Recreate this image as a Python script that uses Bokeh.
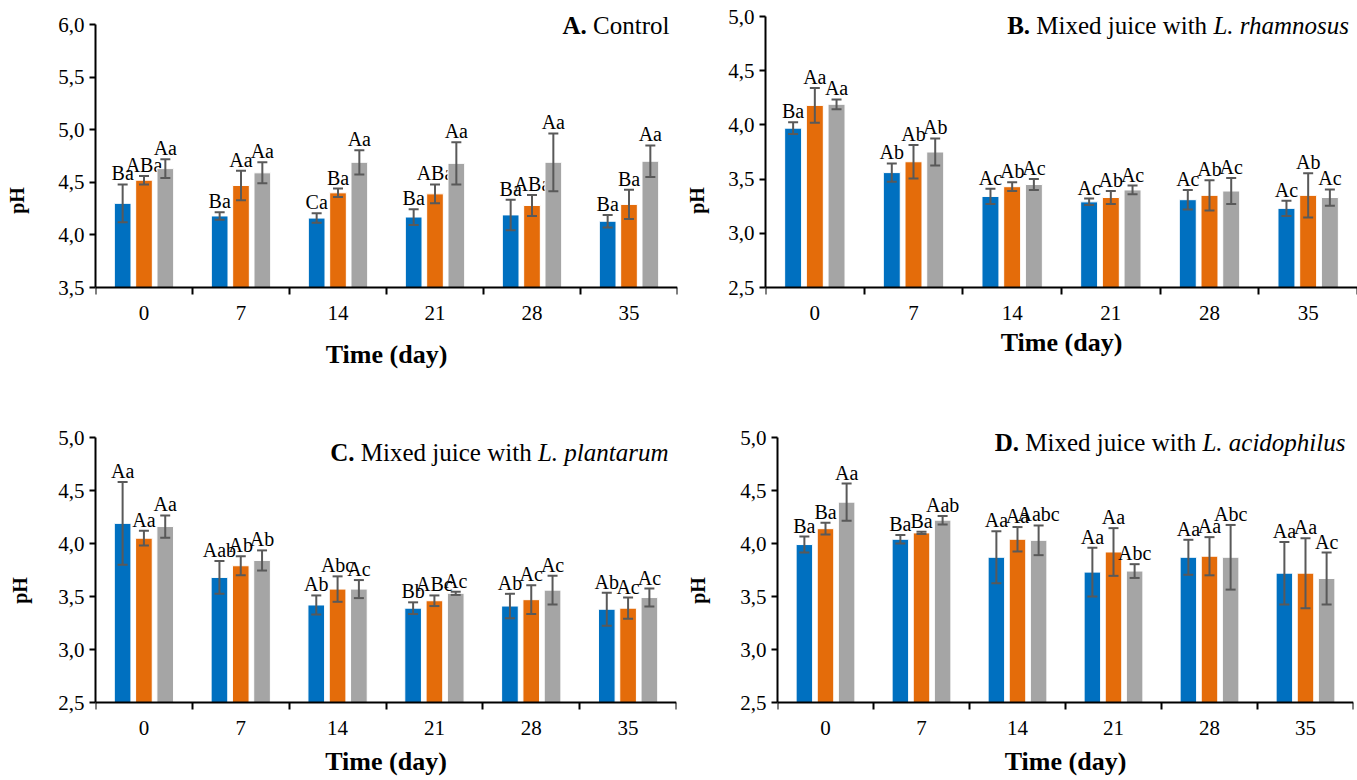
from bokeh.plotting import figure
from bokeh.models import (Range1d, FixedTicker, CustomJSTickFormatter, ColumnDataSource,
                          Whisker, TeeHead, Label)
from bokeh.layouts import row, column
from bokeh.core.properties import value
from bokeh.embed import file_html
from bokeh.resources import INLINE

days = ["0", "7", "14", "21", "28", "35"]
colors = ["#0070C0", "#E46C0A", "#A5A5A5"]

# ---- Panel A: Control
a_blue = [4.30, 4.18, 4.16, 4.17, 4.19, 4.13]
a_blue_err = [0.18, 0.035, 0.045, 0.075, 0.145, 0.06]
a_orange = [4.52, 4.47, 4.40, 4.39, 4.28, 4.29]
a_orange_err = [0.04, 0.14, 0.04, 0.09, 0.10, 0.14]
a_gray = [4.63, 4.59, 4.69, 4.68, 4.69, 4.70]
a_gray_err = [0.09, 0.10, 0.115, 0.20, 0.275, 0.15]
a_blue_lbl = ["Ba", "Ba", "Ca", "Ba", "Ba", "Ba"]
a_orange_lbl = ["ABa", "Aa", "Ba", "ABa", "ABa", "Ba"]
a_gray_lbl = ["Aa", "Aa", "Aa", "Aa", "Aa", "Aa"]

# ---- Panel B: L. rhamnosus
b_blue = [3.97, 3.56, 3.34, 3.29, 3.31, 3.23]
b_blue_err = [0.055, 0.085, 0.07, 0.03, 0.09, 0.07]
b_orange = [4.18, 3.66, 3.43, 3.33, 3.35, 3.35]
b_orange_err = [0.16, 0.155, 0.04, 0.06, 0.14, 0.205]
b_gray = [4.19, 3.75, 3.45, 3.40, 3.39, 3.33]
b_gray_err = [0.045, 0.125, 0.05, 0.04, 0.12, 0.075]
b_blue_lbl = ["Ba", "Ab", "Ac", "Ac", "Ac", "Ac"]
b_orange_lbl = ["Aa", "Ab", "Ab", "Ab", "Ab", "Ab"]
b_gray_lbl = ["Aa", "Ab", "Ac", "Ac", "Ac", "Ac"]

# ---- Panel C: L. plantarum
c_blue = [4.19, 3.68, 3.42, 3.39, 3.41, 3.38]
c_blue_err = [0.39, 0.155, 0.09, 0.055, 0.115, 0.155]
c_orange = [4.05, 3.79, 3.57, 3.46, 3.47, 3.39]
c_orange_err = [0.07, 0.09, 0.12, 0.05, 0.135, 0.10]
c_gray = [4.16, 3.84, 3.57, 3.53, 3.56, 3.49]
c_gray_err = [0.105, 0.095, 0.085, 0.015, 0.135, 0.085]
c_blue_lbl = ["Aa", "Aab", "Ab", "Bb", "Ab", "Ab"]
c_orange_lbl = ["Aa", "Ab", "Abc", "ABc", "Ac", "Ac"]
c_gray_lbl = ["Aa", "Ab", "Ac", "Ac", "Ac", "Ac"]

# ---- Panel D: L. acidophilus
d_blue = [3.99, 4.04, 3.87, 3.73, 3.87, 3.72]
d_blue_err = [0.075, 0.04, 0.245, 0.23, 0.165, 0.295]
d_orange = [4.14, 4.10, 4.04, 3.92, 3.88, 3.72]
d_orange_err = [0.055, 0.01, 0.115, 0.225, 0.18, 0.33]
d_gray = [4.39, 4.22, 4.03, 3.74, 3.87, 3.67]
d_gray_err = [0.175, 0.04, 0.14, 0.065, 0.305, 0.245]
d_blue_lbl = ["Ba", "Ba", "Aa", "Aa", "Aa", "Aa"]
d_orange_lbl = ["Ba", "Ba", "Aa", "Aa", "Aa", "Aa"]
d_gray_lbl = ["Aa", "Aab", "Aabc", "Abc", "Abc", "Ac"]

ticks_a = [3.5, 4.0, 4.5, 5.0, 5.5, 6.0]
ticks_bcd = [2.5, 3.0, 3.5, 4.0, 4.5, 5.0]

# Times-compatible (Liberation Serif) advance widths, per 1000 em
REG = {' ': 250, 'M': 889, 'i': 278, 'x': 500, 'e': 444, 'd': 500, 'j': 278, 'u': 500,
       'c': 444, 'w': 722, 't': 278, 'h': 500, 'C': 667, 'o': 500, 'n': 500, 'r': 333, 'l': 278}
BOLD = {'A': 722, 'B': 667, 'C': 722, 'D': 722, '.': 250, ' ': 250}
ITAL = {'L': 556, '.': 250, ' ': 250, 'r': 389, 'h': 500, 'a': 500, 'm': 722, 'n': 500,
        'o': 500, 's': 389, 'u': 500, 'p': 500, 'l': 278, 't': 278, 'c': 444, 'i': 278, 'd': 500}

FONT = "Liberation Serif"
TITLE_PX = 25


def tw(s, table):
    return sum(table.get(ch, 500) for ch in s) * TITLE_PX / 1000.0


def build(title, ymin, ymax, yticks, series, width, height, bl, br, head, axis_px,
          title_dy, xlab_base, y_als):
    # frame covers the whole figure height; the value axis occupies axis_px pixels
    foot = height - head - axis_px
    per_px = (ymax - ymin) / axis_px
    p = figure(width=width, height=height, x_range=Range1d(0, 6),
               y_range=Range1d(ymin - foot * per_px, ymax + head * per_px),
               output_backend="svg", toolbar_location=None,
               min_border_left=bl, min_border_right=br, min_border_top=0, min_border_bottom=0)
    p.xgrid.visible = False
    p.ygrid.visible = False
    p.outline_line_color = None
    p.background_fill_color = "white"
    p.border_fill_color = "white"

    centers = [i + 0.5 for i in range(6)]
    for k, (vals, errs, lbls) in enumerate(series):
        xs = [c + (k - 1) * 0.22 for c in centers]
        src = ColumnDataSource(dict(x=xs, top=vals,
                                    upper=[v + e for v, e in zip(vals, errs)],
                                    lower=[v - e for v, e in zip(vals, errs)],
                                    lbl=lbls))
        p.vbar(x="x", top="top", bottom=ymin, width=0.172, source=src,
               fill_color=colors[k], line_color="white", line_width=1)
        w = Whisker(source=src, base="x", upper="upper", lower="lower", level="annotation",
                    line_color="#595959", line_width=2,
                    upper_head=TeeHead(size=10, line_color="#595959", line_width=2),
                    lower_head=TeeHead(size=10, line_color="#595959", line_width=2))
        p.add_layout(w)
        p.text(x="x", y="upper", text="lbl", source=src, text_align="center",
               text_baseline="bottom", text_font=value(FONT), text_font_size="20px",
               text_color="black")

    # category axis, drawn at the bottom of the value range
    xa = p.xaxis[0]
    xa.fixed_location = ymin
    xa.ticker = FixedTicker(ticks=centers, minor_ticks=[0, 1, 2, 3, 4, 5, 6])
    xa.formatter = CustomJSTickFormatter(args=dict(labels=days),
                                         code="return labels[Math.floor(tick)];")
    xa.major_tick_line_color = None
    xa.major_tick_out = 7
    xa.major_tick_in = 0
    xa.minor_tick_out = 7
    xa.minor_tick_in = 0
    xa.minor_tick_line_color = "black"
    xa.minor_tick_line_width = 2
    xa.axis_line_color = "black"
    xa.axis_line_width = 2
    xa.major_label_standoff = 11
    xa.major_label_text_font = FONT
    xa.major_label_text_font_size = "21px"
    xa.major_label_text_color = "black"
    p.add_layout(Label(x=3, y=ymin, x_units="data", y_units="data", y_offset=-xlab_base,
                       text="Time (day)", text_font=FONT, text_font_style="bold",
                       text_font_size="26px", text_color="black",
                       text_align="center", text_baseline="alphabetic"))

    ya = p.yaxis[0]
    ya.bounds = (ymin, ymax)
    ya.ticker = FixedTicker(ticks=yticks, minor_ticks=[])
    ya.formatter = CustomJSTickFormatter(code="return tick.toFixed(1).replace('.', ',');")
    ya.major_tick_out = 6
    ya.major_tick_in = 0
    ya.major_tick_line_color = "black"
    ya.major_tick_line_width = 2
    ya.minor_tick_line_color = None
    ya.axis_line_color = "black"
    ya.axis_line_width = 2
    ya.major_label_standoff = 5
    ya.major_label_text_font = FONT
    ya.major_label_text_font_size = "21px"
    ya.major_label_text_color = "black"
    ya.axis_label = "pH"
    ya.axis_label_text_font = FONT
    ya.axis_label_text_font_style = "bold"
    ya.axis_label_text_font_size = "20px"
    ya.axis_label_text_color = "black"
    ya.axis_label_standoff = y_als

    # panel title: bold letter + regular text + italic species name
    bold, reg, ital = title
    parts = [(bold, BOLD, "bold")]
    widths = [tw(bold, BOLD)]
    parts.append((reg, REG, "normal"))
    widths.append(tw(" ", REG) + tw(reg, REG))
    if ital:
        parts.append((ital, ITAL, "italic"))
        widths.append(tw(" ", REG) + tw(ital, ITAL))
    total = sum(widths)
    start = -8 - total
    cum = 0.0
    for i, (txt, tbl, style) in enumerate(parts):
        lead = 0.0 if i == 0 else tw(" ", REG)
        p.add_layout(Label(x=6, y=ymax, x_units="data", y_units="data",
                           x_offset=start + cum + lead, y_offset=-title_dy,
                           text=txt, text_font=FONT, text_font_style=style,
                           text_font_size=f"{TITLE_PX}px", text_color="black",
                           text_align="left", text_baseline="middle"))
        cum += widths[i]
    return p


pa = build(("A.", "Control", None), 3.5, 6.0, ticks_a,
           [(a_blue, a_blue_err, a_blue_lbl), (a_orange, a_orange_err, a_orange_lbl),
            (a_gray, a_gray_err, a_gray_lbl)],
           680, 400, 95, 3, 24, 263, 1, 67, 27)
pb = build(("B.", "Mixed juice with", "L. rhamnosus"), 2.5, 5.0, ticks_bcd,
           [(b_blue, b_blue_err, b_blue_lbl), (b_orange, b_orange_err, b_orange_lbl),
            (b_gray, b_gray_err, b_gray_lbl)],
           677, 400, 85, 0, 16, 271, 9, 55, 17)
pc = build(("C.", "Mixed juice with", "L. plantarum"), 2.5, 5.0, ticks_bcd,
           [(c_blue, c_blue_err, c_blue_lbl), (c_orange, c_orange_err, c_orange_lbl),
            (c_gray, c_gray_err, c_gray_lbl)],
           680, 380, 95, 4, 37, 265, 15, 59, 24)
pd_ = build(("D.", "Mixed juice with", "L. acidophilus"), 2.5, 5.0, ticks_bcd,
            [(d_blue, d_blue_err, d_blue_lbl), (d_orange, d_orange_err, d_orange_lbl),
             (d_gray, d_gray_err, d_gray_lbl)],
            677, 380, 97, 4, 37, 265, 5, 59, 28)

layout = column(row(pa, pb, spacing=0), row(pc, pd_, spacing=0), spacing=0)

open("out.html", "w").write(file_html(layout, INLINE))
